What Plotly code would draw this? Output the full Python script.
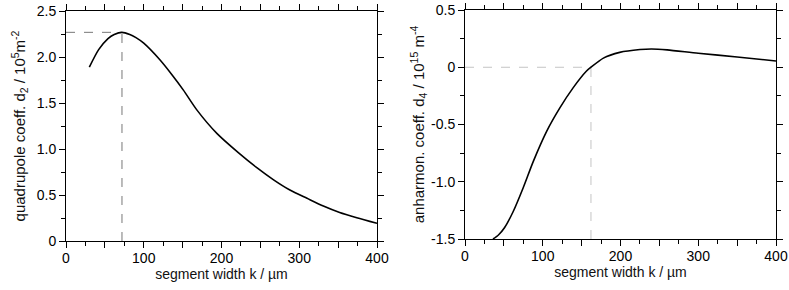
import plotly.graph_objects as go

# left panel: quadrupole coefficient d2
k_d2 = [30, 42, 54, 62, 72, 82, 90, 100, 121, 136, 151, 168, 194, 222, 245, 267, 288, 310, 331, 352, 374, 400]
d2 = [1.89, 2.08, 2.20, 2.245, 2.268, 2.245, 2.21, 2.15, 1.967, 1.81, 1.64, 1.428, 1.17, 0.958, 0.80, 0.665,
      0.554, 0.464, 0.38, 0.31, 0.253, 0.192]
peak_k = 72
peak_d2 = 2.268

# right panel: anharmonic coefficient d4
k_d4 = [36, 43, 51, 62, 75, 88, 105, 122, 139, 156, 162, 178, 199, 225, 240, 260, 300, 350, 400]
d4 = [-1.5, -1.465, -1.40, -1.26, -1.05, -0.82, -0.56, -0.355, -0.18, -0.035, 0.0, 0.08, 0.13, 0.155, 0.16, 0.152, 0.122, 0.09, 0.055]
zero_k = 162

x_tick_step = 50
y1_ticks = [0, 0.5, 1.0, 1.5, 2.0, 2.5]
y1_labels = ["0", "0.5", "1.0", "1.5", "2.0", "2.5"]
y2_ticks = [-1.5, -1.0, -0.5, 0, 0.5]
y2_labels = ["-1.5", "-1.0", "-0.5", "0", "0.5"]

FONT = "Liberation Sans, Arial, Helvetica, sans-serif"
W, H = 789, 290

fig = go.Figure()

# left
fig.add_trace(go.Scatter(x=[0, peak_k], y=[peak_d2, peak_d2], mode="lines",
                         line=dict(color="#777777", width=1, dash="dash"), xaxis="x", yaxis="y", showlegend=False))
fig.add_trace(go.Scatter(x=[peak_k, peak_k], y=[0, peak_d2], mode="lines",
                         line=dict(color="#777777", width=1, dash="dash"), xaxis="x", yaxis="y", showlegend=False))
fig.add_trace(go.Scatter(x=k_d2, y=d2, mode="lines", line=dict(color="black", width=1.6, shape="spline", smoothing=0.7),
                         xaxis="x", yaxis="y", showlegend=False))

# right
fig.add_trace(go.Scatter(x=[0, zero_k], y=[0, 0], mode="lines",
                         line=dict(color="#c4c4c4", width=1, dash="dash"), xaxis="x2", yaxis="y2", showlegend=False))
fig.add_trace(go.Scatter(x=[zero_k, zero_k], y=[-1.5, 0], mode="lines",
                         line=dict(color="#c4c4c4", width=1, dash="dash"), xaxis="x2", yaxis="y2", showlegend=False))
fig.add_trace(go.Scatter(x=k_d4, y=d4, mode="lines", line=dict(color="black", width=1.6, shape="spline", smoothing=0.7),
                         xaxis="x2", yaxis="y2", showlegend=False))

common_axis = dict(showline=True, linecolor="black", linewidth=1, mirror="ticks", ticks="outside",
                   ticklen=6, tickwidth=1, tickcolor="black", showgrid=False, zeroline=False,
                   automargin=False, tickfont=dict(size=14, color="black", family=FONT))

xtitle = dict(text="segment width k / µm", font=dict(size=14, color="#111111", family=FONT), standoff=1)
xminor = dict(dtick=25, ticks="outside", ticklen=4, tickcolor="black", tickwidth=1)
yminor = dict(dtick=0.25, ticks="outside", ticklen=4, tickcolor="black", tickwidth=1)
xticks = dict(tickmode="linear", tick0=0, dtick=x_tick_step, ticklabelstep=2)

fig.update_layout(
    width=W, height=H,
    margin=dict(l=0, r=0, t=0, b=0),
    paper_bgcolor="white", plot_bgcolor="white",
    font=dict(family=FONT, color="black"),
    xaxis=dict(common_axis, **xticks, domain=[66/W, 377/W], range=[0, 400],
               minor=xminor, title=xtitle, anchor="y", ticklabelstandoff=-2),
    yaxis=dict(common_axis, domain=[1 - 241/H, 1 - 11/H], range=[0, 2.5], tickvals=y1_ticks, ticktext=y1_labels,
               minor=yminor,
               title=dict(text="quadrupole coeff. d<sub>2</sub> / 10<sup>5</sup>m<sup>-2</sup>",
                          font=dict(size=15, color="#111111", family=FONT), standoff=7),
               anchor="x"),
    xaxis2=dict(common_axis, **xticks, domain=[465/W, 776/W], range=[0, 400],
                minor=xminor, title=xtitle, anchor="y2", ticklabelstandoff=-2),
    yaxis2=dict(common_axis, domain=[1 - 239/H, 1 - 10/H], range=[-1.5, 0.5], tickvals=y2_ticks, ticktext=y2_labels,
                minor=yminor,
                title=dict(text="anharmon. coeff. d<sub>4</sub> / 10<sup>15</sup> m<sup>-4</sup>",
                           font=dict(size=15, color="#111111", family=FONT), standoff=2),
                anchor="x2"),
)

fig.write_html("out.html", config={"displayModeBar": False},
               post_script="document.body.style.margin='0';document.body.style.overflow='hidden';")
